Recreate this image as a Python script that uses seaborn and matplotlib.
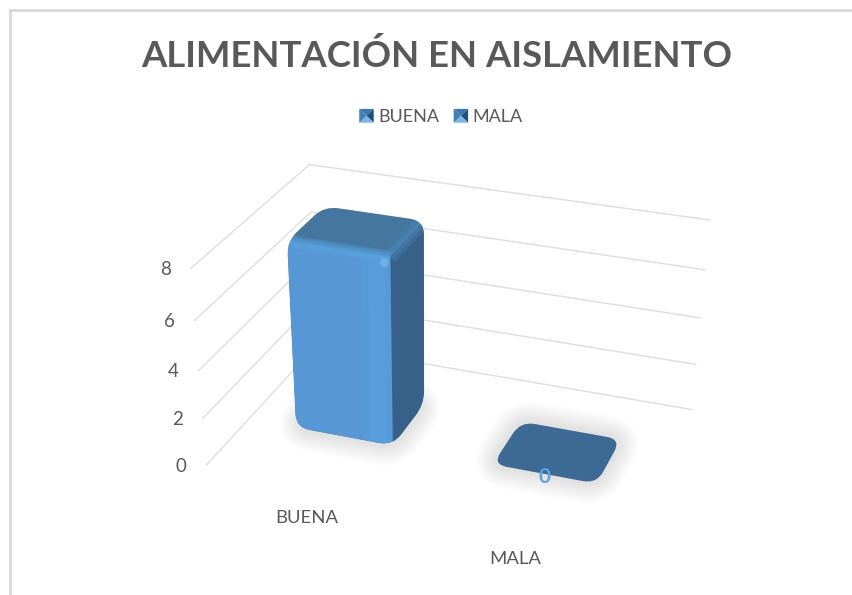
import matplotlib
matplotlib.use('Agg')
import matplotlib.pyplot as plt
import matplotlib.transforms as mtransforms
import numpy as np
import seaborn as sns
from matplotlib.legend_handler import HandlerBase
from matplotlib.patches import Patch, PathPatch, Polygon
from matplotlib.path import Path

categories = ['BUENA', 'MALA']
values = [7.8, 0]
y_ticks = [0, 2, 4, 6, 8]
title = 'ALIMENTACIÓN EN AISLAMIENTO'

GRAY = '#595959'
GRID = '#dedede'
FRONT = '#5797d6'
TOP = '#44769f'
SIDE = '#376189'

sns.set_theme(style='white')
plt.rcParams['font.family'] = ['Lato', 'DejaVu Sans']

# camera for the 3D box: (category x, value, depth) -> picture pixels
# walls are what you can actually see, so they weigh more than the guessed front corner
box_pts = [(-0.5, 0, 0), (-0.5, 4, 0), (-0.5, 8, 0), (-0.5, 0, 1), (-0.5, 4, 1), (-0.5, 8, 1),
           (1.5, 0, 1), (1.5, 4, 1), (1.5, 8, 1), (1.5, 0, 0)]
box_px = [(207, 463), (198, 370), (190, 270), (316, 349), (313, 257), (310, 163),
          (692, 407), (700, 317), (710, 222), (625, 592)]
box_wt = [5, 5, 5, 5, 5, 5, 5, 5, 5, 1]
rows, rhs = [], []
for (x, v, d), (u, w), k in zip(box_pts, box_px, box_wt):
    rows.append(np.array([x, v, d, 1, 0, 0, 0, 0, -u * x, -u * v, -u * d]) * k)
    rows.append(np.array([0, 0, 0, 0, x, v, d, 1, -w * x, -w * v, -w * d]) * k)
    rhs += [u * k, w * k]
cam = np.append(np.linalg.lstsq(np.array(rows), np.array(rhs, float), rcond=None)[0], 1).reshape(3, 4)


def proj(x, v, d):
    h = cam @ np.array([x, v, d, 1.0])
    return h[:2] / h[2]


class FrontPlane(mtransforms.Transform):
    # bars from seaborn live in (x, value), this puts them on the front plane
    input_dims = 2
    output_dims = 2

    def __init__(self, plane_depth):
        super().__init__()
        self.plane_depth = plane_depth

    def transform_non_affine(self, pts):
        return np.array([proj(x, v, self.plane_depth) for x, v in pts])


def rounded(pts, r):
    verts, codes = [], []
    n = len(pts)
    for i in range(n):
        p, a, b = np.array(pts[i]), np.array(pts[i - 1]), np.array(pts[(i + 1) % n])
        p1 = p + (a - p) / np.linalg.norm(a - p) * r
        p2 = p + (b - p) / np.linalg.norm(b - p) * r
        verts += [p1, p, p2]
        codes += [Path.MOVETO if i == 0 else Path.LINETO, Path.CURVE3, Path.CURVE3]
    verts.append(verts[0])
    codes.append(Path.CLOSEPOLY)
    return Path(verts, codes)


def soft_line(ax, pts, color, clip, widths=(9, 6, 3), alpha=0.35):
    for lw in widths:
        line, = ax.plot(*zip(*pts), color=color, lw=lw, alpha=alpha, zorder=6, solid_capstyle='butt')
        line.set_clip_path(clip)


class PyramidHandler(HandlerBase):
    def create_artists(self, legend, orig_handle, xdescent, ydescent, width, height, fontsize, trans):
        x0, y0 = -xdescent, -ydescent
        c = (x0 + width / 2, y0 + height / 2)
        sw, se = (x0, y0), (x0 + width, y0)
        nw, ne = (x0, y0 + height), (x0 + width, y0 + height)
        tris = [([nw, ne, c], '#3a78ad'), ([ne, se, c], '#1f4e79'),
                ([se, sw, c], '#7cb6e8'), ([sw, nw, c], '#3f7fb8')]
        return [Polygon(p, closed=True, fc=col, ec='none', transform=trans) for p, col in tris]


fig, ax = plt.subplots(figsize=(8.52, 5.95), dpi=100)
fig.subplots_adjust(left=0, right=1, top=1, bottom=0)
sns.barplot(x=categories, y=values, hue=categories, palette=[FRONT, FRONT], width=0.5,
            saturation=1, legend=False, linewidth=0, ax=ax)
ax.set_xlim(0, 852)
ax.set_ylim(595, 0)
ax.axis('off')

# chart border, only the top and left show in the crop
ax.plot([10, 852], [10, 10], color='#d9d9d9', lw=2, zorder=1)
ax.plot([10, 10], [10, 595], color='#d9d9d9', lw=2, zorder=1)

# gridlines on the two walls
for v in y_ticks:
    wall = [proj(-0.5, v, 0), proj(-0.5, v, 1), proj(1.5, v, 1)]
    ax.plot(*zip(*wall), color=GRID, lw=1, zorder=1)
    px = proj(-0.5, v, 0)
    ax.text(px[0] - 25, px[1] + 1, str(v), color=GRAY, fontsize=13.5, ha='center', va='center')

d0, d1 = 0.36, 0.69
bars = list(ax.patches)
for bar, name, val in zip(bars, categories, values):
    x0, x1 = bar.get_x(), bar.get_x() + bar.get_width()
    fbl, fbr, bbr, bbl = proj(x0, 0, d0), proj(x1, 0, d0), proj(x1, 0, d1), proj(x0, 0, d1)
    ftl, ftr, btr, btl = proj(x0, val, d0), proj(x1, val, d0), proj(x1, val, d1), proj(x0, val, d1)

    # soft shadow round the footprint
    foot = rounded([fbl, fbr, bbr, bbl], 14)
    for lw in range(4, 34, 3):
        ax.add_patch(PathPatch(foot, fc='#7f7f7f', ec='#7f7f7f', lw=lw, alpha=0.02, zorder=2))

    outline = [fbl, fbr, bbr, btr, btl, ftl] if val > 0 else [ftl, ftr, btr, btl]
    sil = PathPatch(rounded(outline, 14), fc=TOP if val > 0 else '#3c6a94', ec='none', zorder=3)
    ax.add_patch(sil)

    if val > 0:
        side = Polygon([ftr, fbr, bbr, btr], closed=True, fc=SIDE, ec='none', zorder=4)
        ax.add_patch(side)
        side.set_clip_path(sil)
        bar.set_transform(FrontPlane(d0) + ax.transData)
        bar.set_zorder(5)
        bar.set_clip_path(sil)
        # bevels along the front edges
        soft_line(ax, [ftl, ftr], '#5aa3e2', sil)
        soft_line(ax, [ftr - (14, 0), fbr - (14, 0)], '#5aa3e2', sil, widths=(20, 12), alpha=0.3)
        soft_line(ax, [ftr, btr], '#4f8cc2', sil, widths=(10, 5), alpha=0.3)
        spot = ax.scatter(*(ftr + (-6, 5)), s=40, color='#7dbdf2', alpha=0.6, lw=0, zorder=7)
        spot.set_clip_path(sil)
    else:
        bar.set_visible(False)
        lab = proj((x0 + x1) / 2, 0, d0)
        ax.text(lab[0], lab[1] + 3, str(val), color='#5ba3e6', fontsize=15, fontweight='bold',
                ha='center', va='center', zorder=8)

# category labels under the floor
for i, name in enumerate(categories):
    px = proj(i, 0, 0)
    ax.text(px[0] + 2, px[1] + 33, name, color=GRAY, fontsize=13.3, ha='center', va='center')

ax.text(437, 56, title, color=GRAY, fontsize=26.3, fontweight='bold', ha='center', va='center')
ax.legend(handles=[Patch(label=c) for c in categories], handler_map={Patch: PyramidHandler()},
          ncol=2, loc='center', bbox_to_anchor=(441, 117), bbox_transform=ax.transData, frameon=False,
          fontsize=13, labelcolor=GRAY, handlelength=0.8, handleheight=0.8, handletextpad=0.25,
          columnspacing=0.8)

fig.savefig('out.png', dpi=100)
